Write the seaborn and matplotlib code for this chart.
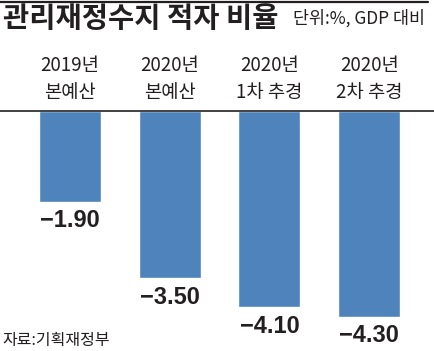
import matplotlib
matplotlib.use('Agg')
import matplotlib.pyplot as plt
import seaborn as sns
from matplotlib.lines import Line2D

# data
categories = ['2019년\n본예산', '2020년\n본예산', '2020년\n1차 추경', '2020년\n2차 추경']
values = [-1.90, -3.50, -4.10, -4.30]
value_labels = ['−1.90', '−3.50', '−4.10', '−4.30']

title = '관리재정수지 적자 비율'
unit = '단위:%, GDP 대비'
source = '자료:기획재정부'

bar_color = '#4F83BB'
ink = '#231F20'

sns.set_theme(style='white')
plt.rcParams['font.family'] = ['Noto Sans CJK KR', 'DejaVu Sans']

W, H = 434, 351
fig = plt.figure(figsize=(W / 100, H / 100), dpi=100)
base_px = 111
ax = fig.add_axes([0, 0, 1, (H - base_px) / H])

sns.barplot(x=categories, y=values, color=bar_color, width=0.62,
            saturation=1, ax=ax)
ax.set_ylim(-(H - base_px) / 47.8, 0)
ax.set_xlim(-0.702, -0.702 + W / 99.7)

# category labels on top of the baseline
ax.xaxis.tick_top()
ax.tick_params(axis='x', length=0, pad=5.5, labelsize=13.5, labelcolor=ink)
for t in ax.get_xticklabels():
    t.set_linespacing(1.38)
ax.set_yticks([])
ax.set_xlabel('')
ax.set_ylabel('')

for side in ['left', 'right', 'bottom']:
    ax.spines[side].set_visible(False)
ax.spines['top'].set_color(ink)
ax.spines['top'].set_linewidth(1.2)

ax.bar_label(ax.containers[0], labels=value_labels, padding=5.5,
             fontsize=17, fontweight='bold', color=ink,
             family=['Liberation Sans', 'DejaVu Sans'])

# header
fig.add_artist(Line2D([0, 428 / W], [1 - 1.5 / H, 1 - 1.5 / H],
                      color=ink, lw=1.6, transform=fig.transFigure))
fig.text(3 / W, 1 - 19 / H, title, fontsize=20.5, fontweight='bold',
         color=ink, va='center', ha='left')
fig.text(425 / W, 1 - 18 / H, unit, fontsize=12.5, color=ink,
         va='center', ha='right')
fig.text(2 / W, 1 - 340 / H, source, fontsize=11.5, color=ink,
         va='center', ha='left')

fig.savefig('out.png', dpi=100)
